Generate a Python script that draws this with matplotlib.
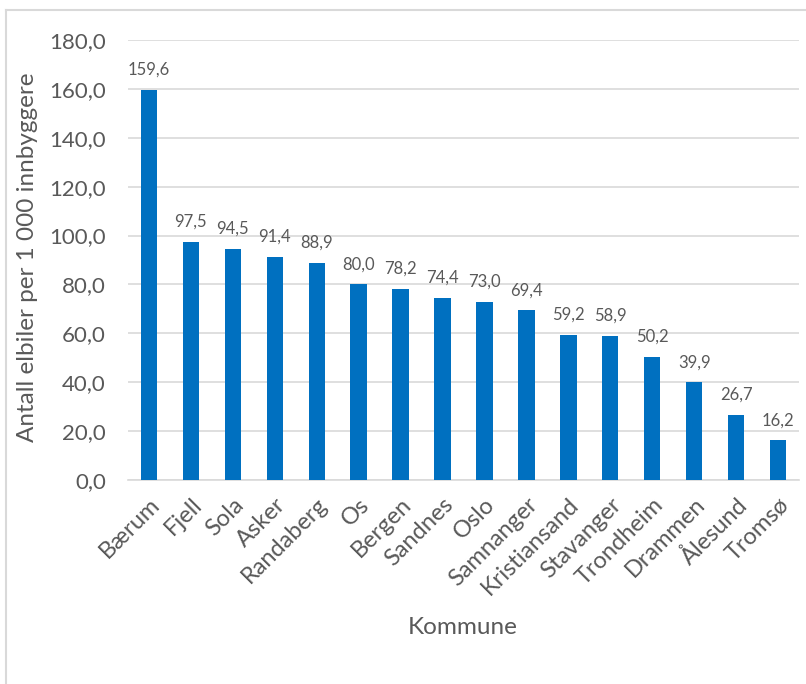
import matplotlib
matplotlib.use("Agg")
import matplotlib.pyplot as plt
from matplotlib.lines import Line2D

plt.rcParams['font.family'] = ['Lato', 'DejaVu Sans']

kommuner = ['Bærum', 'Fjell', 'Sola', 'Asker', 'Randaberg', 'Os', 'Bergen', 'Sandnes',
            'Oslo', 'Samnanger', 'Kristiansand', 'Stavanger', 'Trondheim', 'Drammen',
            'Ålesund', 'Tromsø']
elbiler = [159.6, 97.5, 94.5, 91.4, 88.9, 80.0, 78.2, 74.4,
           73.0, 69.4, 59.2, 58.9, 50.2, 39.9, 26.7, 16.2]
yticks = [0, 20, 40, 60, 80, 100, 120, 140, 160, 180]

text_col = '#595959'
grid_col = '#d9d9d9'

fig = plt.figure(figsize=(8.06, 6.84), dpi=100)
ax = fig.add_axes([0.1588, 0.2982, 0.8325, 0.6433])

x = list(range(len(kommuner)))
ax.bar(x, elbiler, width=0.39, color='#0070C0', zorder=3)
for xi, v in zip(x, elbiler):
    ax.text(xi, v + 5, f"{v:.1f}".replace('.', ','), ha='center', va='bottom',
            fontsize=12, color=text_col)

ax.set_xlim(-0.5, len(kommuner) - 0.5)
ax.set_ylim(0, 180)
ax.set_yticks(yticks)
ax.set_yticklabels([f"{t:.1f}".replace('.', ',') for t in yticks], fontsize=16, color=text_col)
ax.set_xticks(x)
ax.set_xticklabels(kommuner, rotation=45, ha='right', rotation_mode='anchor',
                   fontsize=17, color=text_col)
ax.tick_params(axis='y', length=0, pad=16)
ax.tick_params(axis='x', length=0, pad=10)

ax.grid(axis='y', color=grid_col, linewidth=1.2, zorder=0)
for s in ['top', 'right', 'left']:
    ax.spines[s].set_visible(False)
ax.spines['bottom'].set_color(grid_col)
ax.spines['bottom'].set_linewidth(1.2)

ax.set_ylabel('Antall elbiler per 1 000 innbyggere', fontsize=17.5, color=text_col)
ax.yaxis.set_label_coords(-0.134, 0.507)
fig.text(463 / 806, 1 - 627 / 684, 'Kommune', fontsize=17.5, color=text_col,
         ha='center', va='center')

# frame of the original chart area (top and left edges visible)
fig.add_artist(Line2D([6 / 806, 1.0], [1 - 10 / 684, 1 - 10 / 684], color=grid_col, lw=1.5,
                      transform=fig.transFigure))
fig.add_artist(Line2D([6 / 806, 6 / 806], [0, 1 - 10 / 684], color=grid_col, lw=1.5,
                      transform=fig.transFigure))

fig.savefig('out.png', dpi=100)
